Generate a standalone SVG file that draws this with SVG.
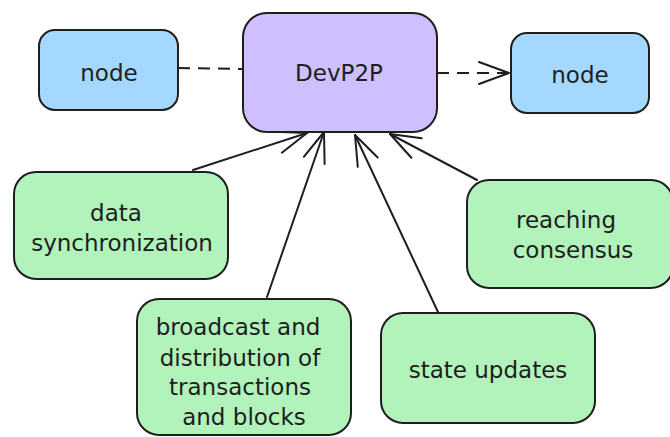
<svg xmlns="http://www.w3.org/2000/svg" width="670" height="437" viewBox="0 0 670 437">
<defs>
<style>
.box{stroke:#1e1e1e;stroke-width:2}
.blue{fill:#a5d8ff}
.purple{fill:#d0bfff}
.green{fill:#b2f2bb}
.t{font-family:"DejaVu Sans","Liberation Sans",sans-serif;font-size:23px;fill:#1e1e1e;text-anchor:middle}
.c{fill:none;stroke:#1e1e1e;stroke-width:2;stroke-linecap:round}
.dash{stroke-dasharray:12 8;stroke-linecap:butt}
</style>
<marker id="arr" markerUnits="userSpaceOnUse" viewBox="-35 -15 40 30" markerWidth="40" markerHeight="30" refX="0" refY="0" orient="auto" overflow="visible">
<path d="M-30,-11 L0,0 L-30,11" fill="none" stroke="#1e1e1e" stroke-width="2" stroke-linecap="round" stroke-linejoin="round"/>
</marker>
</defs>
<g id="connectors">
<line class="c dash" x1="178" y1="68" x2="243" y2="69"/>
<line class="c dash" x1="437" y1="73" x2="509" y2="73" marker-end="url(#arr)"/>
<line class="c" x1="193" y1="170" x2="307" y2="133" marker-end="url(#arr)"/>
<line class="c" x1="267" y1="297" x2="324" y2="132" marker-end="url(#arr)"/>
<line class="c" x1="438" y1="312" x2="355" y2="135" marker-end="url(#arr)"/>
<line class="c" x1="477" y1="180" x2="390" y2="134" marker-end="url(#arr)"/>
</g>
<g id="devp2p">
<rect class="box purple" x="243" y="13" width="194" height="119" rx="24"/>
<text class="t" x="339" y="81">DevP2P</text>
</g>
<g id="node-left">
<rect class="box blue" x="39" y="30" width="139" height="80" rx="16"/>
<text class="t" x="109" y="81">node</text>
</g>
<g id="node-right">
<rect class="box blue" x="511" y="33" width="138" height="80" rx="16"/>
<text class="t" x="580" y="83">node</text>
</g>
<g id="data-sync">
<rect class="box green" x="14" y="172" width="214" height="107" rx="22"/>
<text class="t" x="116" y="221">data</text>
<text class="t" x="122" y="251">synchronization</text>
</g>
<g id="broadcast">
<rect class="box green" x="137" y="299" width="214" height="136" rx="22"/>
<text class="t" x="238" y="335">broadcast and</text>
<text class="t" x="240" y="366">distribution of</text>
<text class="t" x="240" y="395">transactions</text>
<text class="t" x="244" y="425">and blocks</text>
</g>
<g id="state-updates">
<rect class="box green" x="381" y="313" width="214" height="110" rx="22"/>
<text class="t" x="488" y="378">state updates</text>
</g>
<g id="consensus">
<rect class="box green" x="467" y="180" width="206" height="108" rx="22"/>
<text class="t" x="566" y="228">reaching</text>
<text class="t" x="573" y="258">consensus</text>
</g>
</svg>
